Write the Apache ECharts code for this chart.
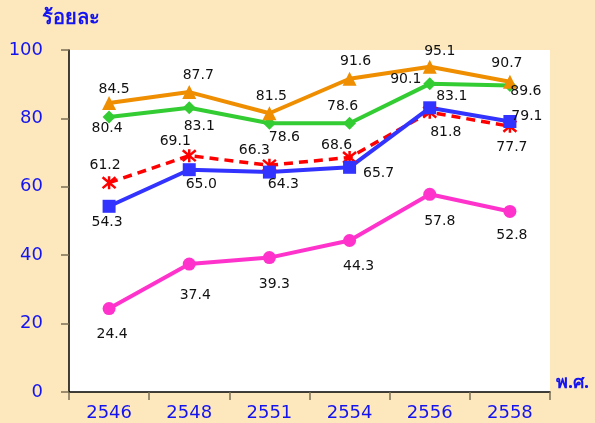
<!DOCTYPE html>
<html><head><meta charset="utf-8">
<script src="https://cdn.jsdelivr.net/npm/echarts@6/dist/echarts.min.js"></script>
<style>html,body{margin:0;padding:0;background:#FDE8BD;}#c{width:595px;height:423px;}</style>
</head><body><div id="c"></div>
<script>
const years = ['2546','2548','2551','2554','2556','2558'];
const yTicks = [0,20,40,60,80,100];
const orangeVals = [84.5,87.7,81.5,91.6,95.1,90.7];
const greenVals = [80.4,83.1,78.6,78.6,90.1,89.6];
const redVals = [61.2,69.1,66.3,68.6,81.8,77.7];
const blueVals = [54.3,65.0,64.3,65.7,83.1,79.1];
const pinkVals = [24.4,37.4,39.3,44.3,57.8,52.8];

// label offsets (styling only)
const orangeOff = [[5,-14],[9,-17],[2,-17],[6,-17],[10,-15],[-3,-18]];
const greenOff = [[-2,11],[10,19],[15,14],[-7,-17],[-24,-4],[16,6]];
const redOff = [[-4,-17],[-14,-14],[-15,-15],[-13,-12],[16,20],[2,21]];
const blueOff = [[-2,16],[12,15],[14,12],[29,6],[22,-11],[17,-5]];
const pinkOff = [[3,26],[6,31],[5,27],[9,26],[10,27],[2,24]];

const FONT = '"DejaVu Sans", Tahoma, Verdana, sans-serif';
const BLUE_TXT = '#1414F0';

function withLabels(vals, offs){
  return vals.map((v,i)=>({value:v,label:{offset:offs[i]}}));
}
function mk(name, vals, offs, color, symbol, size, extra){
  return Object.assign({
    name, type:'line', data: withLabels(vals, offs),
    symbol, symbolSize:size,
    lineStyle:{color, width:4},
    itemStyle:{color},
    label:{show:true, position:'inside', color:'#111', fontSize:14, fontFamily:FONT,
      formatter:p=>p.value.toFixed(1)},
    emphasis:{disabled:true}
  }, extra||{});
}

const chart = echarts.init(document.getElementById('c'), null, {renderer:'canvas'});
chart.setOption({
  backgroundColor:'#FDE8BD',
  animation:false,
  grid:{left:69,right:45,top:50,bottom:31,show:true,backgroundColor:'#ffffff',borderWidth:0,outerBoundsMode:'none'},
  xAxis:{type:'category',data:years,boundaryGap:true,
    axisLine:{lineStyle:{color:'#000',width:1.5}},
    axisTick:{show:true,length:8,lineStyle:{color:'#7a6f55',width:1.5}},
    axisLabel:{color:BLUE_TXT,fontSize:18,fontFamily:FONT,margin:12},
    splitLine:{show:false}},
  yAxis:{type:'value',min:yTicks[0],max:yTicks[yTicks.length-1],interval:20,
    axisLine:{show:true,lineStyle:{color:'#000',width:1.5}},
    axisTick:{show:true,length:8,lineStyle:{color:'#7a6f55',width:1.5}},
    axisLabel:{color:BLUE_TXT,fontSize:18,fontFamily:FONT,margin:26},
    splitLine:{show:false}},
  graphic:[
    {type:'text',left:42,top:8,style:{text:'ร้อยละ',fill:BLUE_TXT,font:'bold 20px "Noto Sans", "DejaVu Sans", sans-serif'}},
    {type:'text',left:556,top:374,style:{text:'พ.ศ.',fill:BLUE_TXT,font:'bold 18px "Noto Sans", "DejaVu Sans", sans-serif'}}
  ],
  series:[
    mk('pink', pinkVals, pinkOff, '#FF33CC', 'circle', 13),
    mk('red', redVals, redOff, '#FF0000', 'path://M0,0L10,10M10,0L0,10M5,-1L5,11', 13, {
      lineStyle:{color:'#FF0000',width:3.5,type:[9,6]},
      itemStyle:{color:'rgba(0,0,0,0)',borderColor:'#FF0000',borderWidth:2.5}
    }),
    mk('blue', blueVals, blueOff, '#3333FF', 'rect', 13),
    mk('green', greenVals, greenOff, '#33CC33', 'diamond', 13),
    mk('orange', orangeVals, orangeOff, '#EE8E00', 'triangle', 14)
  ]
});
</script></body></html>
